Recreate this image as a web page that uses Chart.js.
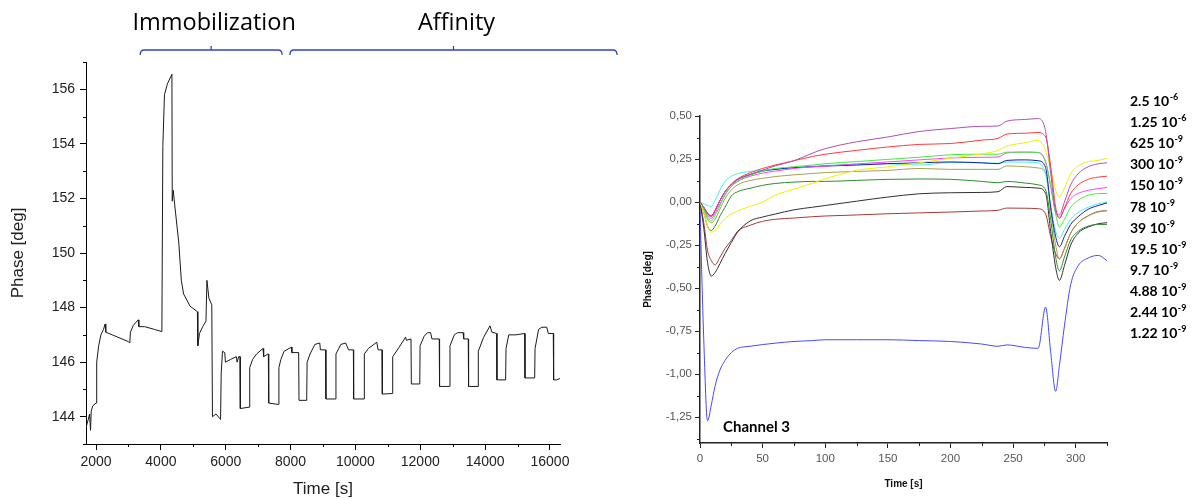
<!DOCTYPE html>
<html>
<head>
<meta charset="utf-8">
<script src="https://cdn.jsdelivr.net/npm/chart.js@4.4.1/dist/chart.umd.min.js"></script>
<style>
  html, body { margin: 0; padding: 0; background: #fff; }
  #wrap { position: relative; width: 1195px; height: 500px; overflow: hidden; }
  #leftChart { position: absolute; left: 0; top: 0; }
  #rightChart { position: absolute; left: 640px; top: 0; }
</style>
</head>
<body>
<div id="wrap">
  <canvas id="leftChart" width="640" height="500"></canvas>
  <canvas id="rightChart" width="555" height="500"></canvas>
</div>
<script>
// ---- left panel: full sensorgram ----
const leftTime = [1690, 1760, 1800, 1830, 1850, 1900, 2000, 2020, 2080, 2150, 2230, 2280, 2300, 2500, 2800, 3000, 3040, 3060, 3150, 3300, 3320, 3500, 3800, 4030,
  4060, 4110, 4200, 4340, 4350, 4380, 4450, 4550, 4630, 4700, 4900, 5125, 5140, 5190, 5290, 5390, 5420, 5480, 5570, 5590, 5700, 5840,
  5860, 5900, 5970, 5990, 6150, 6330, 6350, 6400, 6440, 6450, 6720,
  6740, 6830, 6950, 7150, 7170, 7300, 7314, 7325, 7620,
  7640, 7700, 7800, 8030, 8040, 8250, 8260, 8497,
  8510, 8600, 8750, 8900, 8920, 9080, 9090, 9390,
  9400, 9550, 9700, 9790, 9937, 9945, 10265,
  10275, 10400, 10660, 10700, 10820, 10830, 11138,
  11150, 11350, 11550, 11570, 11714, 11725, 11985,
  11995, 12120, 12220, 12320, 12360, 12585, 12595, 12907,
  12917, 13050, 13150, 13320, 13340, 13480, 13490, 13781,
  13790, 13950, 14150, 14210, 14355, 14365, 14633,
  14645, 14730, 14950, 15220, 15230, 15529,
  15540, 15650, 15750, 15900, 15950, 16103, 16113, 16200, 16310];
const leftPhase = [143.6, 143.9, 144.1, 143.5, 144.2, 144.4, 144.5, 146.0, 146.6, 147.0, 147.2, 147.4, 147.1, 147.0, 146.85, 146.75, 146.7, 147.1, 147.35, 147.55, 147.3, 147.3, 147.2, 147.12,
  153.9, 155.8, 156.2, 156.55, 151.9, 152.3, 151.5, 150.4, 149.0, 148.5, 148.05, 147.85, 146.6, 147.05, 147.3, 147.5, 149.0, 148.35, 148.1, 144.0, 144.1, 143.9,
  145.6, 146.4, 146.35, 146.0, 146.1, 146.2, 146.0, 146.2, 146.2, 144.3, 144.35,
  145.8, 146.1, 146.3, 146.5, 146.2, 146.3, 146.3, 144.5, 144.45,
  145.8, 146.1, 146.4, 146.55, 146.35, 146.35, 144.6, 144.6,
  146.0, 146.3, 146.65, 146.7, 146.45, 146.45, 144.65, 144.65,
  146.3, 146.65, 146.7, 146.45, 146.45, 144.65, 144.65,
  146.3, 146.5, 146.73, 146.45, 146.45, 144.83, 144.85,
  146.2, 146.55, 146.92, 146.8, 146.85, 145.2, 145.2,
  146.6, 146.95, 147.08, 147.08, 146.85, 146.85, 145.11, 145.11,
  146.6, 147.0, 147.08, 147.08, 146.85, 146.85, 145.11, 145.11,
  146.4, 146.9, 147.33, 147.1, 147.05, 145.35, 145.35,
  146.5, 147.0, 147.0, 147.05, 145.42, 145.42,
  146.5, 147.2, 147.28, 147.28, 147.05, 147.05, 145.35, 145.35, 145.4];
const leftXTicks = [2000, 4000, 6000, 8000, 10000, 12000, 14000, 16000];
const leftXMinor = [3000, 5000, 7000, 9000, 11000, 13000, 15000];
const leftYTicks = [144, 146, 148, 150, 152, 154, 156];
const leftYMinor = [143, 145, 147, 149, 151, 153, 155, 157];
const phaseNames = ['Immobilization', 'Affinity'];
const phaseStart = [3360, 7980];
const phaseEnd = [7740, 18070];

// ---- right panel: channel 3 concentration series ----
const rightTime = [0, 3, 6, 9, 12, 16, 20, 25, 30, 40, 50, 60, 75, 90, 100, 125, 150, 175, 200, 225, 238, 245, 260, 270, 276, 280, 284, 287, 291, 296, 302, 310, 318, 325];
const c2500n = [0, -0.03, -0.07, -0.085, -0.05, 0.01, 0.06, 0.10, 0.13, 0.16, 0.185, 0.21, 0.24, 0.285, 0.31, 0.35, 0.378, 0.41, 0.427, 0.44, 0.442, 0.47, 0.48, 0.485, 0.41, 0.17, -0.05, -0.075, 0.0, 0.10, 0.165, 0.205, 0.222, 0.228];
const c1250n = [0, -0.03, -0.065, -0.08, -0.05, 0.01, 0.06, 0.105, 0.135, 0.17, 0.195, 0.215, 0.24, 0.265, 0.278, 0.30, 0.32, 0.335, 0.34, 0.36, 0.37, 0.395, 0.40, 0.404, 0.378, 0.21, -0.03, -0.095, -0.035, 0.05, 0.10, 0.132, 0.145, 0.15];
const c625n = [0, -0.06, -0.14, -0.175, -0.165, -0.13, -0.095, -0.07, -0.052, -0.025, 0.0, 0.04, 0.075, 0.11, 0.135, 0.184, 0.205, 0.228, 0.255, 0.28, 0.30, 0.325, 0.345, 0.358, 0.30, 0.19, 0.07, 0.03, 0.08, 0.165, 0.21, 0.235, 0.242, 0.255];
const c300n = [0, -0.04, -0.09, -0.11, -0.08, -0.02, 0.04, 0.09, 0.12, 0.155, 0.18, 0.195, 0.205, 0.215, 0.223, 0.235, 0.248, 0.26, 0.275, 0.278, 0.278, 0.29, 0.29, 0.288, 0.23, 0.10, -0.07, -0.145, -0.10, -0.03, 0.01, 0.04, 0.049, 0.05];
const c150n = [0, -0.035, -0.08, -0.095, -0.065, -0.01, 0.045, 0.09, 0.12, 0.15, 0.168, 0.18, 0.195, 0.205, 0.209, 0.222, 0.233, 0.245, 0.256, 0.26, 0.262, 0.285, 0.29, 0.288, 0.235, 0.09, -0.06, -0.087, -0.04, 0.02, 0.05, 0.068, 0.078, 0.085];
const c78n = [0, -0.03, -0.065, -0.08, -0.05, 0.01, 0.06, 0.10, 0.13, 0.16, 0.18, 0.19, 0.20, 0.205, 0.209, 0.215, 0.223, 0.228, 0.233, 0.228, 0.223, 0.242, 0.245, 0.24, 0.20, -0.03, -0.20, -0.26, -0.20, -0.13, -0.085, -0.042, -0.02, -0.005];
const c39n = [0, -0.01, -0.02, -0.025, 0.01, 0.07, 0.12, 0.15, 0.165, 0.178, 0.184, 0.19, 0.20, 0.208, 0.213, 0.218, 0.223, 0.215, 0.23, 0.228, 0.225, 0.233, 0.232, 0.228, 0.16, -0.02, -0.17, -0.21, -0.16, -0.10, -0.06, -0.03, -0.01, 0.0];
const c19n = [0, -0.04, -0.10, -0.12, -0.10, -0.04, 0.02, 0.07, 0.10, 0.125, 0.138, 0.148, 0.158, 0.166, 0.171, 0.178, 0.184, 0.195, 0.19, 0.19, 0.19, 0.21, 0.205, 0.198, 0.17, -0.04, -0.25, -0.33, -0.27, -0.18, -0.12, -0.08, -0.058, -0.05];
const c9n = [0, -0.06, -0.14, -0.165, -0.14, -0.08, -0.03, 0.035, 0.06, 0.08, 0.097, 0.108, 0.116, 0.12, 0.12, 0.126, 0.132, 0.134, 0.132, 0.12, 0.112, 0.12, 0.11, 0.10, 0.07, -0.10, -0.32, -0.40, -0.32, -0.22, -0.17, -0.14, -0.13, -0.13];
const c4n = [0, -0.15, -0.35, -0.43, -0.41, -0.357, -0.30, -0.235, -0.175, -0.11, -0.087, -0.07, -0.045, -0.03, -0.02, 0.005, 0.029, 0.048, 0.054, 0.056, 0.06, 0.09, 0.085, 0.081, 0.05, -0.17, -0.38, -0.455, -0.37, -0.25, -0.18, -0.145, -0.126, -0.12];
const c2n = [0, -0.12, -0.28, -0.34, -0.365, -0.32, -0.27, -0.223, -0.17, -0.135, -0.112, -0.10, -0.093, -0.085, -0.081, -0.075, -0.068, -0.063, -0.058, -0.052, -0.048, -0.035, -0.036, -0.039, -0.07, -0.20, -0.30, -0.33, -0.27, -0.18, -0.12, -0.08, -0.055, -0.05];
const c1n = [-0.05, -0.8, -1.27, -1.18, -1.07, -0.975, -0.92, -0.875, -0.85, -0.838, -0.828, -0.82, -0.81, -0.805, -0.80, -0.80, -0.80, -0.805, -0.81, -0.825, -0.838, -0.83, -0.845, -0.85, -0.61, -0.87, -1.10, -0.95, -0.72, -0.48, -0.37, -0.325, -0.31, -0.34];
const concMantissa = ['2.5', '1.25', '625', '300', '150', '78', '39', '19.5', '9.7', '4.88', '2.44', '1.22'];
const concExponent = ['-6', '-6', '-9', '-9', '-9', '-9', '-9', '-9', '-9', '-9', '-9', '-9'];
const rightSeries = [c2500n, c1250n, c625n, c300n, c150n, c78n, c39n, c19n, c9n, c4n, c2n, c1n];
const seriesColors = ['#b050b0', '#ff3a3a', '#f0f000', '#3cf03c', '#ff40ff', '#1c1c9c', '#40f0f0', '#a8a050', '#2e8e2e', '#303030', '#a83a3a', '#4848ff'];
const rightXTicks = [0, 50, 100, 150, 200, 250, 300];
const rightXMinor = [25, 75, 125, 175, 225, 275, 325];
const rightYTicks = [-1.25, -1.0, -0.75, -0.5, -0.25, 0, 0.25, 0.5];
const rightYMinor = [-1.375, -1.125, -0.875, -0.625, -0.375, -0.125, 0.125, 0.375];

// short outward minor ticks, placed through the chart scales
const minorTicks = {
  id: 'minorTicks',
  afterDraw(chart, args, opts) {
    const { ctx, chartArea, scales } = chart;
    ctx.save();
    ctx.strokeStyle = opts.color;
    ctx.lineWidth = 1;
    ctx.beginPath();
    opts.x.forEach(v => {
      const px = Math.round(scales.x.getPixelForValue(v)) + 0.5;
      ctx.moveTo(px, chartArea.bottom);
      ctx.lineTo(px, chartArea.bottom + opts.len);
    });
    opts.y.forEach(v => {
      const py = Math.round(scales.y.getPixelForValue(v)) + 0.5;
      ctx.moveTo(chartArea.left, py);
      ctx.lineTo(chartArea.left - opts.len, py);
    });
    ctx.stroke();
    ctx.restore();
  }
};

// phase brackets above the left chart
const phaseBrackets = {
  id: 'phaseBrackets',
  afterDraw(chart) {
    const ctx = chart.ctx;
    const xs = chart.scales.x;
    ctx.save();
    ctx.strokeStyle = '#3344bb';
    ctx.lineWidth = 1.3;
    phaseNames.forEach((name, i) => {
      const a = xs.getPixelForValue(phaseStart[i]);
      const b = xs.getPixelForValue(phaseEnd[i]);
      const m = (a + b) / 2;
      const y = 50;
      ctx.beginPath();
      ctx.moveTo(a, y + 5);
      ctx.quadraticCurveTo(a, y, a + 4, y);
      ctx.lineTo(b - 4, y);
      ctx.quadraticCurveTo(b, y, b, y + 5);
      ctx.moveTo(m, y);
      ctx.lineTo(m, y - 4);
      ctx.stroke();
      ctx.fillStyle = '#000';
      ctx.font = '23.5px "Open Sans"';
      ctx.textAlign = 'center';
      ctx.textBaseline = 'middle';
      ctx.fillText(name, m + 3, 23);
    });
    ctx.restore();
  }
};

// concentration list and channel name beside the right chart
const concLabels = {
  id: 'concLabels',
  afterDraw(chart) {
    const ctx = chart.ctx;
    const area = chart.chartArea;
    ctx.save();
    ctx.fillStyle = '#000';
    ctx.textBaseline = 'alphabetic';
    ctx.textAlign = 'left';
    concMantissa.forEach((m, i) => {
      const x = 490;
      const y = 106 + i * 21.1;
      ctx.font = 'bold 14px Lato';
      const base = m + ' 10';
      ctx.fillText(base, x, y);
      const w = ctx.measureText(base).width;
      ctx.font = 'bold 9px Lato';
      ctx.fillText(concExponent[i], x + w + 0.5, y - 6);
    });
    ctx.font = 'bold 15px Lato';
    ctx.fillText('Channel 3', area.left + 23, area.bottom - 11);
    ctx.restore();
  }
};

new Chart(document.getElementById('leftChart'), {
  type: 'line',
  data: {
    datasets: [{
      data: leftTime.map((t, i) => ({ x: t, y: leftPhase[i] })),
      borderColor: '#1a1a1a',
      borderWidth: 1,
      pointRadius: 0,
      tension: 0
    }]
  },
  options: {
    responsive: false,
    animation: false,
    events: [],
    layout: { padding: { top: 62, right: 80, left: 0, bottom: 0 } },
    plugins: {
      legend: { display: false },
      tooltip: { enabled: false },
      minorTicks: { x: leftXMinor, y: leftYMinor, len: 3, color: '#000' }
    },
    scales: {
      x: {
        type: 'linear', min: 1690, max: 16310, bounds: 'data',
        afterFit: s => { s.height = 56; },
        afterBuildTicks: s => { s.ticks = leftXTicks.map(v => ({ value: v })); },
        grid: { drawOnChartArea: false, tickLength: 6, color: '#000' },
        border: { color: '#000', width: 1 },
        ticks: {
          autoSkip: false, maxRotation: 0, padding: 4, color: '#222', font: { family: 'Liberation Sans', size: 14 },
          callback: v => String(v)
        },
        title: { display: true, text: 'Time [s]', color: '#222', padding: 0, font: { family: 'Liberation Sans', size: 17 } }
      },
      y: {
        type: 'linear', min: 143, max: 157, bounds: 'data',
        afterFit: s => { s.width = 86; },
        afterBuildTicks: s => { s.ticks = leftYTicks.map(v => ({ value: v })); },
        grid: { drawOnChartArea: false, tickLength: 6, color: '#000' },
        border: { color: '#000', width: 1 },
        ticks: { autoSkip: false, padding: 5, color: '#222', font: { family: 'Liberation Sans', size: 14 }, callback: v => String(v) },
        title: { display: true, text: 'Phase [deg]', color: '#222', padding: { top: 8 }, font: { family: 'Liberation Sans', size: 17 } }
      }
    }
  },
  plugins: [minorTicks, phaseBrackets]
});

new Chart(document.getElementById('rightChart'), {
  type: 'line',
  data: {
    datasets: rightSeries.map((vals, k) => ({
      label: concMantissa[k] + ' 10^' + concExponent[k],
      data: rightTime.map((t, i) => ({ x: t, y: vals[i] })),
      borderColor: seriesColors[k],
      borderWidth: 1,
      pointRadius: 0,
      cubicInterpolationMode: 'monotone'
    }))
  },
  options: {
    responsive: false,
    animation: false,
    events: [],
    layout: { padding: { top: 116, right: 88, left: 0, bottom: 0 } },
    plugins: {
      legend: { display: false },
      tooltip: { enabled: false },
      minorTicks: { x: rightXMinor, y: rightYMinor, len: 3, color: '#222' }
    },
    scales: {
      x: {
        type: 'linear', min: 0, max: 325, bounds: 'data',
        afterFit: s => { s.height = 57; },
        afterBuildTicks: s => { s.ticks = rightXTicks.map(v => ({ value: v })); },
        grid: { drawOnChartArea: false, tickLength: 5, color: '#222' },
        border: { color: '#222', width: 1.5 },
        ticks: { autoSkip: false, maxRotation: 0, padding: 4, color: '#555', font: { family: 'Liberation Sans', size: 11.5 } },
        title: { display: true, text: 'Time [s]', color: '#111', padding: { bottom: 10 }, font: { family: 'Liberation Sans', size: 10, weight: 'bold' } }
      },
      y: {
        type: 'linear', min: -1.4, max: 0.5, bounds: 'data',
        afterFit: s => { s.width = 60; },
        afterBuildTicks: s => { s.ticks = rightYTicks.map(v => ({ value: v })); },
        grid: { drawOnChartArea: false, tickLength: 5, color: '#222' },
        border: { color: '#222', width: 1.5 },
        ticks: {
          autoSkip: false, padding: 3, color: '#555', font: { family: 'Liberation Sans', size: 11.5 },
          callback: v => v.toFixed(2).replace('.', ',')
        },
        title: { display: true, text: 'Phase [deg]', color: '#111', padding: { top: 2 }, font: { family: 'Liberation Sans', size: 10, weight: 'bold' } }
      }
    }
  },
  plugins: [minorTicks, concLabels]
});
</script>
</body>
</html>
